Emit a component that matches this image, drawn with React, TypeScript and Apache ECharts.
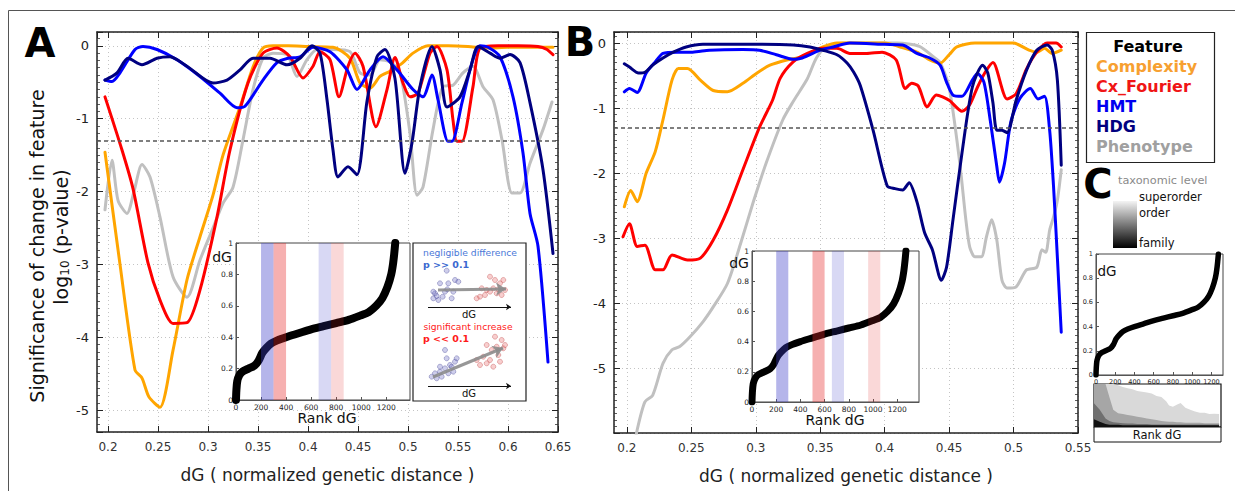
import React, { useEffect, useRef } from 'react';
import * as echarts from 'echarts';

const FONT = "'DejaVu Sans', 'Liberation Sans', sans-serif";
const THRESH = Math.log10(0.05);

// ---------------- Panel A : significance curves ----------------
const aPhenotypeX = [0.197,0.204,0.210,0.219,0.226,0.234,0.242,0.252,0.265,0.279,0.292,0.305,0.315,0.325,0.335,0.345,0.355,0.365,0.379,0.389,0.399,0.409,0.425,0.442,0.452,0.462,0.472,0.482,0.492,0.502,0.509,0.515,0.525,0.535,0.545,0.555,0.565,0.575,0.585,0.594,0.604,0.612,0.622,0.635,0.644];
const aPhenotypeY = [-2.25,-1.57,-2.12,-2.30,-2.0,-1.63,-1.80,-2.35,-3.17,-3.45,-2.94,-2.50,-2.16,-1.94,-1.29,-0.60,-0.17,-0.10,-0.12,-0.42,-0.19,-0.05,-0.05,-0.08,-0.37,-0.40,-0.19,-0.22,-0.37,-1.20,-2.05,-1.94,-1.15,-0.56,-0.54,-0.37,-0.28,-0.56,-0.74,-1.29,-2.02,-2.02,-1.61,-1.15,-0.77];
const aComplexityX = [0.197,0.212,0.227,0.234,0.241,0.252,0.265,0.279,0.292,0.305,0.315,0.332,0.345,0.355,0.365,0.38,0.40,0.425,0.442,0.452,0.462,0.472,0.482,0.494,0.505,0.52,0.54,0.56,0.58,0.60,0.62,0.645];
const aComplexityY = [-1.46,-3.0,-4.45,-4.56,-4.82,-4.96,-4.18,-3.21,-2.62,-2.05,-1.50,-0.84,-0.29,-0.03,0.0,0.0,-0.01,-0.02,-0.17,-0.51,-0.58,-0.42,-0.35,-0.24,-0.10,0.0,0.0,-0.01,-0.03,-0.02,-0.02,-0.02];
const aFourierX = [0.197,0.214,0.225,0.240,0.252,0.265,0.279,0.292,0.309,0.322,0.340,0.355,0.369,0.382,0.395,0.405,0.412,0.422,0.431,0.440,0.447,0.455,0.468,0.479,0.487,0.495,0.502,0.510,0.522,0.529,0.539,0.545,0.549,0.554,0.565,0.572,0.59,0.61,0.63,0.639,0.645];
const aFourierY = [-0.70,-1.43,-1.96,-2.98,-3.49,-3.81,-3.80,-3.35,-2.35,-1.43,-0.51,-0.10,-0.03,-0.15,-0.44,-0.28,-0.08,-0.19,-0.70,-0.28,-0.10,-0.28,-1.11,-0.60,-0.16,-0.51,-0.70,-0.65,-0.10,-0.01,-0.33,-1.02,-1.31,-1.31,-0.56,-0.03,0.0,0.0,-0.01,-0.05,-0.12];
const aHmtX = [0.197,0.204,0.212,0.227,0.235,0.249,0.269,0.292,0.312,0.329,0.337,0.355,0.369,0.380,0.392,0.405,0.422,0.439,0.449,0.462,0.475,0.489,0.505,0.515,0.524,0.530,0.540,0.544,0.554,0.564,0.572,0.580,0.592,0.605,0.615,0.622,0.630,0.640];
const aHmtY = [-0.47,-0.49,-0.37,-0.05,-0.01,-0.05,-0.19,-0.42,-0.65,-0.85,-0.83,-0.47,-0.23,-0.17,-0.15,-0.02,-0.08,-0.33,-0.60,-0.33,-0.15,-0.33,-0.60,-0.70,-0.40,-0.74,-1.31,-1.31,-0.78,-0.23,0.0,-0.02,-0.15,-0.70,-1.47,-2.30,-2.75,-4.34];
const aHdgX = [0.197,0.209,0.220,0.234,0.249,0.262,0.279,0.305,0.319,0.332,0.345,0.362,0.379,0.392,0.404,0.412,0.419,0.425,0.430,0.440,0.449,0.459,0.469,0.477,0.487,0.497,0.504,0.512,0.524,0.532,0.539,0.552,0.562,0.570,0.582,0.592,0.602,0.612,0.622,0.635,0.645];
const aHdgY = [-0.47,-0.37,-0.17,-0.26,-0.17,-0.15,-0.28,-0.51,-0.47,-0.33,-0.17,-0.17,-0.26,-0.17,0.0,-0.10,-0.74,-1.43,-1.80,-1.66,-1.77,-0.76,-0.15,-0.05,-0.45,-1.75,-1.33,-0.56,-0.01,-0.33,-0.84,-0.70,-0.33,-0.01,-0.10,-0.17,-0.12,-0.23,-0.78,-1.70,-2.85];

// ---------------- Panel B : significance curves ----------------
const bPhenotypeX = [0.204,0.208,0.214,0.220,0.228,0.235,0.241,0.249,0.259,0.267,0.278,0.288,0.298,0.308,0.321,0.329,0.340,0.347,0.355,0.370,0.390,0.410,0.427,0.437,0.443,0.450,0.458,0.463,0.466,0.470,0.475,0.479,0.483,0.487,0.491,0.495,0.502,0.510,0.518,0.522,0.525,0.528,0.531,0.534,0.537];
const bPhenotypeY = [-6.4,-5.95,-5.52,-5.42,-4.93,-4.72,-4.67,-4.52,-4.29,-4.06,-3.70,-3.10,-2.45,-1.85,-1.18,-0.90,-0.55,-0.23,-0.05,0.0,0.0,0.0,-0.05,-0.20,-0.30,-0.68,-1.80,-2.72,-3.14,-3.29,-3.29,-2.98,-2.72,-3.03,-3.65,-3.77,-3.75,-3.49,-3.45,-3.18,-3.22,-2.88,-2.68,-2.42,-1.95];
const bComplexityX = [0.198,0.203,0.208,0.215,0.222,0.228,0.235,0.240,0.247,0.257,0.267,0.278,0.290,0.301,0.311,0.324,0.334,0.344,0.352,0.363,0.380,0.400,0.412,0.425,0.435,0.443,0.450,0.456,0.470,0.490,0.500,0.512,0.518,0.524,0.530,0.537];
const bComplexityY = [-2.52,-2.27,-2.44,-2.00,-1.67,-1.18,-0.57,-0.39,-0.39,-0.57,-0.73,-0.75,-0.62,-0.46,-0.34,-0.26,-0.22,-0.14,-0.06,0.0,0.0,0.0,-0.06,-0.14,-0.26,-0.31,-0.18,-0.06,0.0,0.0,0.0,-0.11,-0.14,-0.08,-0.16,-0.11];
const bFourierX = [0.197,0.202,0.208,0.214,0.222,0.228,0.235,0.247,0.257,0.267,0.278,0.290,0.303,0.313,0.319,0.329,0.340,0.352,0.363,0.373,0.386,0.398,0.409,0.416,0.421,0.426,0.433,0.440,0.450,0.460,0.466,0.472,0.478,0.484,0.495,0.502,0.510,0.518,0.526,0.533,0.537];
const bFourierY = [-2.98,-2.78,-3.13,-3.11,-3.49,-3.49,-3.26,-3.34,-3.31,-3.03,-2.57,-1.95,-1.29,-0.88,-0.54,-0.29,-0.16,-0.08,-0.08,-0.16,-0.16,-0.14,-0.26,-0.70,-0.62,-0.66,-0.98,-0.80,-0.88,-1.05,-0.95,-0.68,-0.45,-0.30,-0.86,-0.78,-0.40,-0.14,0.0,0.0,-0.06];
const bHmtX = [0.198,0.202,0.208,0.215,0.222,0.228,0.239,0.251,0.264,0.290,0.303,0.316,0.329,0.336,0.350,0.360,0.373,0.400,0.414,0.425,0.435,0.443,0.448,0.453,0.460,0.468,0.472,0.477,0.482,0.487,0.489,0.493,0.498,0.505,0.513,0.519,0.524,0.528,0.531,0.534,0.537];
const bHmtY = [-0.75,-0.70,-0.76,-0.46,-0.29,-0.16,-0.14,-0.14,-0.11,-0.10,-0.11,-0.18,-0.25,-0.23,-0.11,-0.06,0.0,-0.02,-0.03,-0.16,-0.23,-0.34,-0.60,-0.80,-0.82,-0.57,-0.47,-0.60,-1.20,-1.90,-2.14,-1.85,-1.20,-0.85,-0.70,-0.86,-0.82,-1.34,-2.20,-3.30,-4.45];
const bHdgX = [0.198,0.202,0.209,0.214,0.220,0.228,0.236,0.246,0.259,0.300,0.329,0.342,0.352,0.363,0.371,0.376,0.381,0.391,0.402,0.408,0.414,0.419,0.425,0.431,0.437,0.444,0.448,0.453,0.460,0.468,0.476,0.480,0.484,0.487,0.491,0.495,0.502,0.510,0.518,0.526,0.530,0.534,0.537];
const bHdgY = [-0.32,-0.37,-0.46,-0.45,-0.34,-0.23,-0.14,-0.06,-0.02,-0.02,-0.03,-0.06,-0.11,-0.18,-0.31,-0.45,-0.65,-1.34,-2.20,-2.24,-2.26,-2.15,-2.44,-2.92,-3.18,-3.65,-3.45,-2.72,-1.69,-0.68,-0.34,-0.46,-0.92,-1.34,-1.34,-1.38,-0.88,-0.42,-0.11,-0.03,-0.11,-0.57,-1.88];

// ---------------- Insets : sorted dG vs rank ----------------
const rankDG = [0,3,10,25,50,100,150,180,210,240,280,330,400,500,600,700,800,900,1000,1060,1120,1170,1210,1240,1255,1265,1272];
const sortedDG = [0,0.06,0.12,0.155,0.18,0.2,0.22,0.25,0.3,0.33,0.36,0.38,0.4,0.425,0.45,0.47,0.49,0.51,0.54,0.56,0.6,0.65,0.72,0.8,0.87,0.94,1.0];
const bandsA = [[200, 300], [300, 400], [660, 760], [760, 860]];
const bandsB = [[200, 300], [500, 600], [660, 760], [960, 1060]];

// ---------------- Illustration box (schematic points) ----------------
const illusBlueX = [33.7,35.3,27,22,20.3,25.3,32,40.3,42,45.3,34.3,23.7,29.7,38.7,20.3,22,27,32,37,42,32,33.7,18.7,23.7,28.7,35.3,40.3,43.7,38.7,27];
const illusBlueY = [27.7,40.3,40.3,50.3,55.3,57,48.7,48.7,37,38.7,46.3,53,53.7,55.3,48.7,130.3,128.7,125.3,122,118.7,107,115.3,133.7,135.3,133.7,130.3,128.7,115.3,123.7,123.7];
const illusRedX = [77,82,87,90.3,80.3,73.7,67,63.7,72,83.7,88.7,92,68.7,77,85.3,82,88.7,73.7,78.7,83.7,90.3,70.3,77,67,80.3,73.7,85.3,92,63.7,87];
const illusRedY = [33.7,37,40.3,37,45.3,47,53.7,55.3,52,50.3,52,47,45.3,48.7,46.3,93.7,97,102,107,103.7,105.3,113.7,117,122,123.7,120.3,112,102,117,118.7];
const trendArrows = [[25, 47, 93, 46], [20, 134, 90, 105]];
const dGArrows = [[15, 64, 98, 64], [15, 143, 98, 143]];

// ---------------- Panel C : taxonomic level composition ----------------
const rankC = [0,60,120,160,200,250,300,350,400,450,500,550,600,650,700,750,780,820,860,900,950,1000,1050,1100,1150,1200,1250,1300];
const superorderTop = [1,1,1,1,1,0.97,0.93,0.9,0.88,0.84,0.82,0.8,0.78,0.72,0.7,0.6,0.5,0.47,0.52,0.56,0.45,0.4,0.36,0.33,0.33,0.3,0.31,0.3];
const orderTop = [1,1,1,0.7,0.4,0.32,0.3,0.28,0.26,0.24,0.22,0.2,0.18,0.16,0.14,0.13,0.12,0.12,0.11,0.11,0.1,0.1,0.1,0.1,0.09,0.09,0.09,0.09];
const subTop = [0.55,0.4,0.2,0.14,0.11,0.1,0.09,0.08,0.08,0.07,0.07,0.07,0.06,0.06,0.06,0.06,0.06,0.06,0.06,0.06,0.06,0.06,0.06,0.06,0.06,0.06,0.06,0.06];
const familyTop = [0.18,0.12,0.07,0.05,0.05,0.05,0.04,0.04,0.04,0.04,0.04,0.04,0.04,0.04,0.04,0.04,0.04,0.04,0.04,0.04,0.04,0.04,0.04,0.04,0.04,0.04,0.04,0.04];

const features = ['Complexity', 'Cx_Fourier', 'HMT', 'HDG', 'Phenotype'];
const featureColors = ['#FFA500', '#FF0000', '#0000FF', '#000080', '#C0C0C0'];
const legendTextColors = ['#F7A030', '#F01515', '#0000F0', '#000080', '#A0A0A0'];

const zip = (xs: number[], ys: number[]) => xs.map((x, i) => [x, ys[i]]);

const fmtX = (v: number) => {
  const r = Math.round(v * 20);
  return Math.abs(v * 20 - r) < 1e-6 ? String(+(r / 20).toFixed(2)) : '';
};
const fmtY = (v: number) => (Math.abs(v - Math.round(v)) < 1e-6 ? String(Math.round(v)) : '');
const fmtPlain = (v: number) => String(+v.toFixed(2));

function mainAxes(grid: number, xMin: number, xMax: number, yMin: number, yMax: number) {
  const line = { show: true, onZero: false, lineStyle: { color: '#222', width: 1.5 } };
  const tick = { show: true, inside: true, length: 6, lineStyle: { color: '#222', width: 1 } };
  const minor = { show: true, splitNumber: 10, length: 3, lineStyle: { color: '#333', width: 0.8 } };
  const grd = { show: true, lineStyle: { color: '#c4c4c4', type: [1, 3], width: 1 } };
  const xb = {
    type: 'value', gridIndex: grid, position: 'bottom', min: xMin, max: xMax, minInterval: 0.05, maxInterval: 0.05,
    axisLine: line, axisTick: tick, splitLine: grd,
    axisLabel: { show: true, fontSize: 12, color: '#333', margin: 9, fontFamily: FONT, showMinLabel: false, formatter: fmtX },
    name: 'dG ( normalized genetic distance )', nameLocation: 'middle', nameGap: 34,
    nameTextStyle: { fontSize: 17, color: '#222', fontFamily: FONT },
  };
  const xt = {
    type: 'value', gridIndex: grid, position: 'top', min: xMin, max: xMax, minInterval: 0.05, maxInterval: 0.05,
    axisLine: line, axisTick: tick, splitLine: { show: false }, axisLabel: { show: false },
  };
  const yl = {
    type: 'value', gridIndex: grid, position: 'left', min: yMin, max: yMax, minInterval: 1, maxInterval: 1,
    axisLine: line, axisTick: tick, minorTick: minor, splitLine: grd,
    axisLabel: { show: true, fontSize: 13, color: '#222', margin: 8, fontFamily: FONT, showMinLabel: false, showMaxLabel: false, formatter: fmtY },
  };
  const yr = {
    type: 'value', gridIndex: grid, position: 'right', min: yMin, max: yMax, minInterval: 1, maxInterval: 1,
    axisLine: line, axisTick: tick, minorTick: minor, splitLine: { show: false }, axisLabel: { show: false },
  };
  return { xb, xt, yl, yr };
}

function insetAxes(grid: number, xMax: number, fs: number) {
  const line = { show: true, onZero: false, lineStyle: { color: '#555', width: 1 } };
  const tick = { show: true, inside: true, length: 3, lineStyle: { color: '#555' } };
  return {
    x: {
      type: 'value', gridIndex: grid, min: 0, max: xMax, interval: 200, z: 6,
      axisLine: line, axisTick: tick, splitLine: { show: false },
      axisLabel: { fontSize: fs, color: '#222', margin: 3, fontFamily: FONT, showMaxLabel: false, formatter: fmtPlain },
    },
    y: {
      type: 'value', gridIndex: grid, min: 0, max: 1, interval: 0.2, z: 6,
      axisLine: line, axisTick: tick, splitLine: { show: false },
      axisLabel: { fontSize: fs, color: '#222', margin: 3, fontFamily: FONT, formatter: fmtPlain },
    },
  };
}

function mline(name: string, color: string, xs: number[], ys: number[], xi: number, yi: number, extra: any = {}) {
  return {
    type: 'line', name, xAxisIndex: xi, yAxisIndex: yi, data: zip(xs, ys), symbol: 'none', showSymbol: false,
    smooth: 0.25, lineStyle: { color, width: 3, join: 'round', cap: 'round' }, z: 2, silent: true, clip: true, ...extra,
  };
}

const threshLine = {
  silent: true, symbol: ['none', 'none'], label: { show: false }, z: 3,
  lineStyle: { type: [4, 3], color: '#555', width: 1.5 }, data: [{ yAxis: THRESH }],
};

function bandArea(bands: number[][]) {
  const cols = ['rgba(60,60,200,0.38)', 'rgba(230,40,40,0.37)', 'rgba(60,60,200,0.2)', 'rgba(230,40,40,0.18)'];
  return {
    silent: true, z: 8,
    data: bands.map((b, i) => [{ xAxis: b[0], itemStyle: { color: cols[i], opacity: 1 } }, { xAxis: b[1] }]),
  };
}

function dgCurve(xi: number, yi: number, width: number, bands?: number[][]) {
  const s: any = {
    type: 'line', xAxisIndex: xi, yAxisIndex: yi, data: zip(rankDG, sortedDG), symbol: 'none', smooth: 0.3,
    lineStyle: { color: '#000', width, cap: 'round', join: 'round' }, z: 7, silent: true,
  };
  if (bands) s.markArea = bandArea(bands);
  return s;
}

function txt(x: number, y: number, text: string, o: any = {}) {
  const { rotation, ...style } = o;
  return {
    type: 'text', x, y, z: 20, rotation: rotation || 0, silent: true,
    style: { text, fontFamily: FONT, fontSize: 12, fill: '#111', align: 'left', verticalAlign: 'middle', ...style },
  };
}

function buildOption() {
  const A = mainAxes(0, 0.189, 0.65, -5.3, 0.19);
  const B = mainAxes(3, 0.19, 0.55, -6, 0.17);
  const IA = insetAxes(1, 1390, 7.5);
  const IB = insetAxes(4, 1380, 7.5);
  const IC = insetAxes(5, 1320, 6.5);
  const hidden = (grid: number, max: number, inverse = false) => ({ type: 'value', gridIndex: grid, min: 0, max, inverse, show: false });

  const gridBox = (left: number, top: number, width: number, height: number, border = '#444', bw = 1) => ({
    left, top, width, height, show: true, backgroundColor: '#fff', borderColor: border, borderWidth: bw, z: 5,
    containLabel: false, outerBoundsMode: 'none',
  });

  const aXs = [aComplexityX, aFourierX, aHmtX, aHdgX, aPhenotypeX];
  const aYs = [aComplexityY, aFourierY, aHmtY, aHdgY, aPhenotypeY];
  const bXs = [bComplexityX, bFourierX, bHmtX, bHdgX, bPhenotypeX];
  const bYs = [bComplexityY, bFourierY, bHmtY, bHdgY, bPhenotypeY];
  const drawOrder = [4, 0, 1, 2, 3];

  const series: any[] = [];
  drawOrder.forEach((k, n) => {
    series.push(mline(features[k] + ' A', featureColors[k], aXs[k], aYs[k], 0, 0, n === 0 ? { markLine: threshLine } : {}));
  });
  drawOrder.forEach((k, n) => {
    series.push(mline(features[k] + ' B', featureColors[k], bXs[k], bYs[k], 4, 4, n === 0 ? { markLine: threshLine } : {}));
  });
  series.push(dgCurve(2, 2, 8, bandsA));
  series.push(dgCurve(6, 6, 7, bandsB));
  series.push(dgCurve(7, 7, 5.5));

  // illustration
  series.push({
    type: 'scatter', xAxisIndex: 3, yAxisIndex: 3, data: zip(illusBlueX, illusBlueY), symbolSize: 5, z: 7, silent: true,
    itemStyle: { color: 'rgba(120,120,200,0.45)', borderColor: 'rgba(70,70,150,0.8)', borderWidth: 0.6 },
  });
  series.push({
    type: 'scatter', xAxisIndex: 3, yAxisIndex: 3, data: zip(illusRedX, illusRedY), symbolSize: 5, z: 7, silent: true,
    itemStyle: { color: 'rgba(235,120,120,0.45)', borderColor: 'rgba(190,70,70,0.8)', borderWidth: 0.6 },
  });
  series.push({
    type: 'lines', coordinateSystem: 'cartesian2d', xAxisIndex: 3, yAxisIndex: 3, z: 8, silent: true,
    data: trendArrows.map((a) => ({ coords: [[a[0], a[1]], [a[2], a[3]]] })),
    lineStyle: { color: '#8c8c8c', width: 3, opacity: 0.9, curveness: 0 }, symbol: ['none', 'arrow'], symbolSize: 10,
  });
  series.push({
    type: 'lines', coordinateSystem: 'cartesian2d', xAxisIndex: 3, yAxisIndex: 3, z: 8, silent: true,
    data: dGArrows.map((a) => ({ coords: [[a[0], a[1]], [a[2], a[3]]] })),
    lineStyle: { color: '#111', width: 1, opacity: 1, curveness: 0 }, symbol: ['none', 'arrow'], symbolSize: 5,
  });

  // panel C area composition
  const layers = [superorderTop, orderTop, subTop, familyTop];
  const layerCols = ['#d9d9d9', '#a6a6a6', '#707070', '#111111'];
  layers.forEach((ys, i) => {
    series.push({
      type: 'line', xAxisIndex: 8, yAxisIndex: 8, data: zip(rankC, ys), symbol: 'none', z: 6 + i, silent: true,
      lineStyle: { width: 0 }, areaStyle: { color: layerCols[i], opacity: 1 },
    });
  });

  const graphic: any[] = [
    { type: 'polyline', z: 1, silent: true, shape: { points: [[8.5, 491], [8.5, 10.5], [1235, 10.5]] }, style: { stroke: '#555', lineWidth: 1, fill: 'none' } },
    txt(40, 43, 'A', { fontSize: 40, fontWeight: 'bold', align: 'center', fill: '#000' }),
    txt(580, 42, 'B', { fontSize: 40, fontWeight: 'bold', align: 'center', fill: '#000' }),
    txt(1098, 184, 'C', { fontSize: 40, fontWeight: 'bold', align: 'center', fill: '#000' }),
    txt(37, 246, 'Significance of change in feature', { fontSize: 19, align: 'center', rotation: Math.PI / 2 }),
    txt(61, 237, 'log{s|10} (p-value)', {
      fontSize: 19, align: 'center', rotation: Math.PI / 2,
      rich: { s: { fontSize: 12, fontFamily: FONT, verticalAlign: 'bottom', fill: '#111', padding: [8, 0, 0, 0] } },
    }),
    // inset labels
    txt(222, 257, 'dG', { fontSize: 14, align: 'center' }),
    txt(327, 418, 'Rank dG', { fontSize: 14, align: 'center' }),
    txt(739, 263, 'dG', { fontSize: 14, align: 'center' }),
    txt(835, 420, 'Rank dG', { fontSize: 14, align: 'center' }),
    // illustration texts
    txt(470, 252, 'negligible difference', { fontSize: 9.2, align: 'center', fill: '#4a78d8' }),
    txt(423, 264, 'p >> 0.1', { fontSize: 9.5, fontWeight: 'bold', fill: '#3a68d0' }),
    txt(469, 314, 'dG', { fontSize: 10, align: 'center' }),
    txt(468, 326, 'significant increase', { fontSize: 9.2, align: 'center', fill: '#ff2020' }),
    txt(423, 338, 'p << 0.1', { fontSize: 9.5, fontWeight: 'bold', fill: '#ff1a1a' }),
    txt(469, 393, 'dG', { fontSize: 10, align: 'center' }),
    // legend
    { type: 'rect', z: 19, silent: true, shape: { x: 1086.5, y: 32.5, width: 128, height: 130 }, style: { fill: '#fff', stroke: '#222', lineWidth: 1.2 } },
    txt(1148, 46, 'Feature', { fontSize: 16, fontWeight: 'bold', align: 'center', fill: '#000' }),
    ...features.map((f, i) => txt(1096, 66 + i * 20.2, f, { fontSize: 16, fontWeight: 'bold', fill: legendTextColors[i] })),
    // panel C
    txt(1118, 180, 'taxonomic level', { fontSize: 11.3, fill: '#8a8a8a' }),
    {
      type: 'rect', z: 19, silent: true, shape: { x: 1113, y: 201, width: 24, height: 47 },
      style: { fill: new echarts.graphic.LinearGradient(0, 0, 0, 1, [{ offset: 0, color: '#f4f4f4' }, { offset: 1, color: '#000' }]) },
    },
    txt(1139, 197, 'superorder', { fontSize: 11.5 }),
    txt(1139, 213, 'order', { fontSize: 11.5 }),
    txt(1139, 243, 'family', { fontSize: 11.5 }),
    txt(1107, 271, 'dG', { fontSize: 13.5, align: 'center' }),
    { type: 'rect', z: 19, silent: true, shape: { x: 1094, y: 427, width: 127, height: 15 }, style: { fill: '#fff', stroke: '#111', lineWidth: 1 } },
    txt(1157, 435, 'Rank dG', { fontSize: 11.5, align: 'center' }),
  ];

  return {
    animation: false,
    backgroundColor: '#fff',
    textStyle: { fontFamily: FONT },
    grid: [
      { left: 97, top: 32, width: 461, height: 400, containLabel: false, outerBoundsMode: 'none' },
      gridBox(236, 243, 174, 157),
      gridBox(413, 243, 113, 158, '#222', 1.2),
      { left: 614, top: 32, width: 464, height: 401, containLabel: false, outerBoundsMode: 'none' },
      gridBox(752, 251, 167, 151),
      gridBox(1096, 254, 127, 121),
      gridBox(1094, 384, 127, 43, '#111', 1.2),
    ],
    xAxis: [A.xb, A.xt, IA.x, hidden(2, 113), B.xb, B.xt, IB.x, IC.x, hidden(6, 1320)],
    yAxis: [A.yl, A.yr, IA.y, hidden(2, 158, true), B.yl, B.yr, IB.y, IC.y, hidden(6, 1)],
    series,
    graphic,
  };
}

export default function App() {
  const ref = useRef<HTMLDivElement>(null);
  useEffect(() => {
    document.body.style.margin = '0';
    const chart = echarts.init(ref.current as HTMLDivElement, null, { renderer: 'svg' });
    chart.setOption(buildOption() as any);
    return () => chart.dispose();
  }, []);
  return <div ref={ref} style={{ width: 1235, height: 491, background: '#fff' }} />;
}
